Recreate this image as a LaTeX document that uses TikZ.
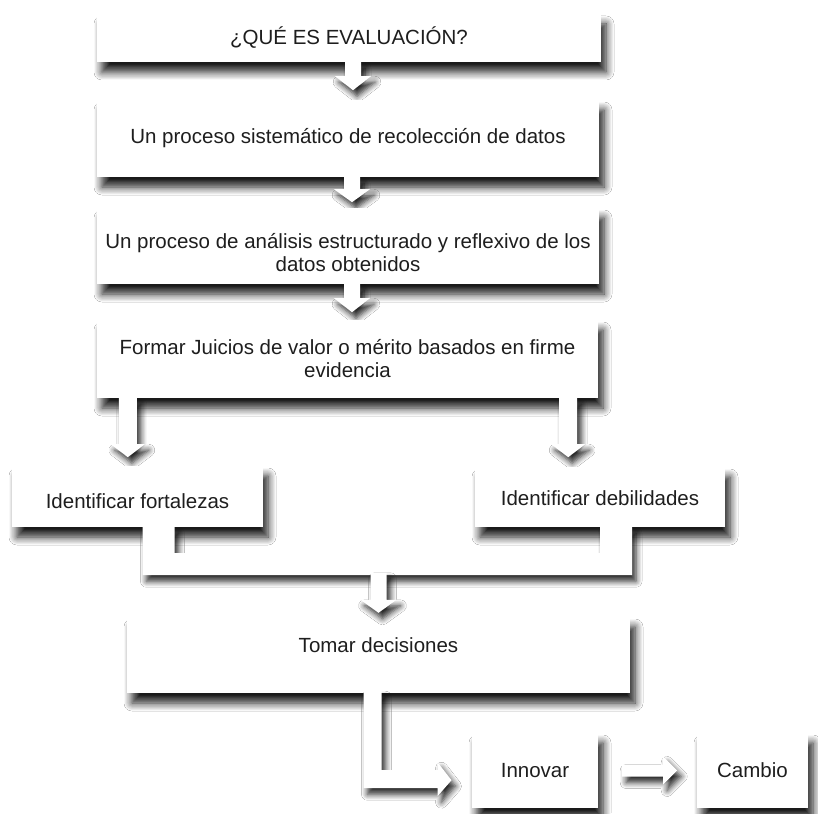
\documentclass[tikz,border=0pt]{standalone}
\usepackage{fontspec}
\setmainfont{Liberation Sans}
\usetikzlibrary{calc,shadows.blur}
\definecolor{textgray}{HTML}{1E1E1E}
\tikzset{
  box/.style={fill=white, inner sep=0pt, align=center, text=textgray,
    blur shadow={shadow xshift=5pt, shadow yshift=-10pt, shadow blur radius=8pt, shadow blur steps=8, shadow opacity=90}},
  blockarrow/.style={fill=white,
    blur shadow={shadow xshift=4pt, shadow yshift=-6pt, shadow blur radius=6pt, shadow blur steps=6, shadow opacity=85}}
}
\begin{document}
\begin{tikzpicture}[x=1pt,y=-1pt,font=\fontsize{20.5}{23}\selectfont]
\useasboundingbox[fill=white] (0,0) rectangle (818,813);

% main column
\node[box, minimum width=504pt, minimum height=48pt] (que) at (349,38) {¿QUÉ ES EVALUACIÓN?};
\fill[blockarrow] (que.south) ++(-4,0) -- ++(0,14) -- ++(-10,0) -- ++(18,14) -- ++(18,-14) -- ++(-10,0) -- ++(0,-14) -- cycle;

\node[box, minimum width=502pt, minimum height=77pt] (datos) at (348,138.5) {Un proceso sistemático de recolección de datos};
\fill[blockarrow] (datos.south) ++(-4,0) -- ++(0,12) -- ++(-10,0) -- ++(18,13) -- ++(18,-13) -- ++(-10,0) -- ++(0,-12) -- cycle;

\node[box, minimum width=502pt, minimum height=76pt] (analisis) at (348,246) {\rule{0pt}{29pt}Un proceso de análisis estructurado y reflexivo de los\\datos obtenidos};
\fill[blockarrow] (analisis.south) ++(-4,0) -- ++(0,14) -- ++(-10,0) -- ++(18,14) -- ++(18,-14) -- ++(-10,0) -- ++(0,-14) -- cycle;

\node[box, minimum width=501pt, minimum height=78pt] (juicios) at (347.5,359) {Formar Juicios de valor o mérito basados en firme\\evidencia};

% two branches
\fill[blockarrow] ($(juicios.south west)+(22,0)$) -- ++(0,46) -- ++(-8,0) -- ++(17,13) -- ++(17,-13) -- ++(-8,0) -- ++(0,-46) -- cycle;
\fill[blockarrow] ($(juicios.south east)+(-39,0)$) -- ++(0,46) -- ++(-8,0) -- ++(17,13) -- ++(17,-13) -- ++(-8,0) -- ++(0,-46) -- cycle;

\node[box, minimum width=251pt, minimum height=61pt, text height=25pt] (fort) at (137.5,496.5) {Identificar fortalezas};
\node[box, minimum width=250pt, minimum height=60pt, text height=17pt] (deb) at (600,497) {Identificar debilidades};

% joining bar
\fill[blockarrow] ($(fort.south)+(5,0)$) -- ++(0,48) -| ($(deb.south)+(32,0)$) -- ++(-32,0) |- ($(fort.south)+(37,26)$) -- ++(0,-26) -- cycle;

\node[box, minimum width=503pt, minimum height=76pt, text depth=20pt] (tomar) at (378.5,655) {Tomar decisiones};
\fill[blockarrow] ($(tomar.north)+(-8,-44)$) -- ++(0,27) -- ++(-10,0) -- ++(18,13) -- ++(18,-13) -- ++(-10,0) -- ++(0,-27) -- cycle;

% bottom row
\fill[blockarrow] ($(tomar.south)+(-15,-2)$) -- ++(0,97) -- ++(74,0) -- ++(0,8) -- ++(14,-16) -- ++(-14,-18) -- ++(0,8) -- ++(-56,0) -- ++(0,-79) -- cycle;

\node[box, minimum width=126pt, minimum height=75pt] (innov) at (535,770.5) {Innovar};
\fill[blockarrow] ($(innov.east)+(24,-6)$) -- ++(41,0) -- ++(0,-8) -- ++(14,14) -- ++(-14,14) -- ++(0,-8) -- ++(-41,0) -- cycle;
\node[box, minimum width=111pt, minimum height=75pt] (cambio) at (752.5,770.5) {Cambio};
\end{tikzpicture}
\end{document}
